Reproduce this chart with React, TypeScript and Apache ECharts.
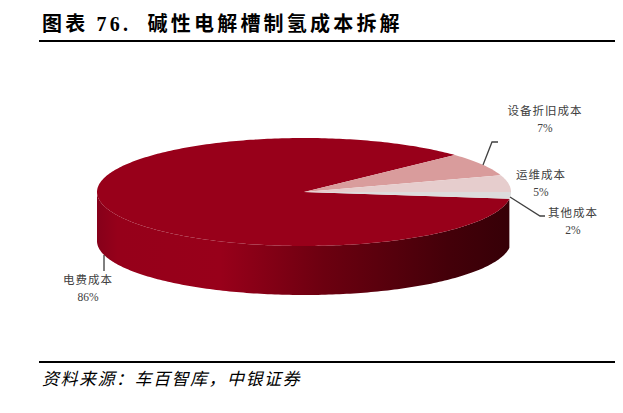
import React, { useEffect, useRef } from "react";
import * as echarts from "echarts";

const categories = ["电费成本", "设备折旧成本", "运维成本", "其他成本"];
const shares = [86, 7, 5, 2];
const titleText = "图表 76.  碱性电解槽制氢成本拆解";
const sourceText = "资料来源：车百智库，中银证券";

const topColors = ["#98001a", "#d99c9c", "#e6cdcd", "#dcdcdc"];
const wallStops: [number, string][][] = [
  [[0, "#86001a"], [0.05, "#96001a"], [0.3, "#98001a"], [0.55, "#6c0010"], [0.85, "#440009"], [1, "#360007"]],
  [[0, "#c08a8a"], [1, "#c08a8a"]],
  [[0, "#c8b0b0"], [1, "#c8b0b0"]],
  [[0, "#6e6e6e"], [1, "#b4b4b4"]],
];

const CX = 304, CY = 192, RX = 207, RY = 54, DEPTH = 49;
const START_DEG = -7.2; // slices run clockwise from here

const px = (deg: number) => CX + RX * Math.cos((deg * Math.PI) / 180);
const py = (deg: number) => CY - RY * Math.sin((deg * Math.PI) / 180);

function sliceRange(index: number): [number, number] {
  let end = START_DEG;
  for (let i = 0; i < index; i++) end -= (shares[i] / 100) * 360;
  const start = end - (shares[index] / 100) * 360;
  return [start + 360, end + 360]; // counter-clockwise interval
}

function arcPoints(a: number, b: number, dy = 0): number[][] {
  const pts: number[][] = [];
  const n = Math.max(2, Math.ceil(Math.abs(b - a)));
  for (let i = 0; i <= n; i++) {
    const t = a + ((b - a) * i) / n;
    pts.push([px(t), py(t) + dy]);
  }
  return pts;
}

const wallItem = (_p: any, api: any) => {
  const i = api.value(0);
  let [a, b] = sliceRange(i);
  a = Math.max(a, 180);
  b = Math.min(b, 360);
  if (b <= a) return null;
  const points = [...arcPoints(a, b), ...arcPoints(b, a, DEPTH)];
  return {
    type: "polygon",
    shape: { points },
    style: {
      fill: new echarts.graphic.LinearGradient(0, 0, 1, 0,
        wallStops[i].map(([offset, color]) => ({ offset, color }))),
    },
  };
};

const topItem = (_p: any, api: any) => {
  const i = api.value(0);
  const [a, b] = sliceRange(i);
  return {
    type: "polygon",
    shape: { points: [[CX, CY], ...arcPoints(a, b)] },
    style: { fill: topColors[i] },
  };
};

const labelPos = [
  { x: 88, y: 272 },
  { x: 545, y: 103 },
  { x: 541, y: 167 },
  { x: 573, y: 205 },
];

const indexes = categories.map((_, i) => [i, shares[i]]);

const leaderStyle = { stroke: "#404040", lineWidth: 1.3, fill: "none" };

export default function App() {
  const ref = useRef<HTMLDivElement>(null);
  useEffect(() => {
    const chart = echarts.init(ref.current!, undefined, { renderer: "svg" });
    chart.setOption({
      animation: false,
      backgroundColor: "#ffffff",
      series: [
        { type: "custom", coordinateSystem: "none", renderItem: wallItem, data: indexes, silent: true, z: 1 },
        { type: "custom", coordinateSystem: "none", renderItem: topItem, data: indexes, silent: true, z: 2 },
      ],
      graphic: [
        {
          type: "text", x: 42, y: 14, z: 10,
          style: { text: titleText, fontFamily: "'Liberation Serif','Noto Sans CJK SC'", fontWeight: "bold", fontSize: 20, fill: "#000" },
        },
        { type: "rect", x: 39, y: 40, z: 10, shape: { width: 576, height: 2 }, style: { fill: "#000" } },
        { type: "rect", x: 39, y: 361, z: 10, shape: { width: 576, height: 2 }, style: { fill: "#000" } },
        {
          type: "text", x: 42, y: 369, z: 10,
          style: { text: sourceText, fontFamily: "'Noto Sans CJK SC'", fontStyle: "italic", fontSize: 17, fill: "#000" },
        },
        { type: "polyline", z: 10, shape: { points: [[483, 165], [492, 142], [498, 142]] }, style: leaderStyle },
        { type: "polyline", z: 10, shape: { points: [[510, 197], [540, 216], [545, 216]] }, style: leaderStyle },
        { type: "line", z: 10, shape: { x1: 104, y1: 255, x2: 104, y2: 271 }, style: { stroke: "#000", lineWidth: 1 } },
        ...categories.map((name, i) => ({
          type: "text", x: labelPos[i].x, y: labelPos[i].y, z: 10,
          style: {
            text: `${name}\n${shares[i]}%`,
            fontFamily: "'Liberation Serif','Noto Sans CJK SC'",
            fontSize: 11.5, lineHeight: 16.5, fill: "#404040", align: "center",
          },
        })),
      ],
    });
    const spacing = () => {
      ref.current!.querySelectorAll("text").forEach((t: any) => {
        const s = t.textContent || "";
        if (s.startsWith("图表")) t.style.letterSpacing = "3.2px";
        else if (s.startsWith("资料")) t.style.letterSpacing = "1.5px";
        else if (!s.endsWith("%")) t.style.letterSpacing = "1px";
      });
    };
    spacing();
    return () => chart.dispose();
  }, []);
  return <div ref={ref} style={{ position: "absolute", left: 0, top: 0, width: 623, height: 413 }} />;
}
